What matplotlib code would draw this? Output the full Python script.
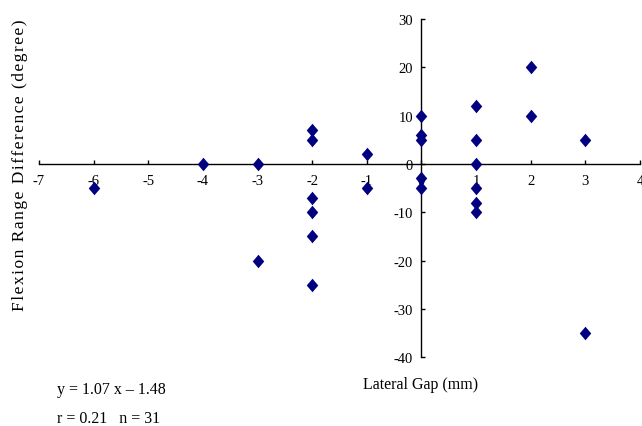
import matplotlib
matplotlib.use("Agg")
import matplotlib.pyplot as plt
import numpy as np

plt.rcParams['font.family'] = ['Liberation Serif', 'DejaVu Serif']

# Data
gap = [-6, -4, -3, -3, -2, -2, -2, -2, -2, -2, -1, -1,
       0, 0, 0, 0, 0, 1, 1, 1, 1, 1, 1, 2, 2, 3, 3]
flex = [-5, 0, 0, -20, 7, 5, -7, -10, -15, -25, 2, -5,
        10, 6, 5, -3, -5, 12, 5, 0, -5, -8, -10, 20, 10, 5, -35]

x_ticks = [-7, -6, -5, -4, -3, -2, -1, 0, 1, 2, 3, 4]
y_ticks = [-40, -30, -20, -10, 0, 10, 20, 30]

fig = plt.figure(figsize=(6.42, 4.27), dpi=100)
ax = fig.add_axes([39/642, 1 - 358.3/427, (640 - 39)/642, (358.3 - 20)/427])

diamond = [(0, 1), (0.85, 0), (0, -1), (-0.85, 0), (0, 1)]
ax.scatter(gap, flex, marker=diamond, s=95, color='#000080', zorder=3,
           linewidths=0, clip_on=False)

ax.set_xlim(-7, 4)
ax.set_ylim(-40, 30)
ax.spines['left'].set_position(('data', 0))
ax.spines['bottom'].set_position(('data', 0))
ax.spines['right'].set_visible(False)
ax.spines['top'].set_visible(False)
for s in ('left', 'bottom'):
    ax.spines[s].set_linewidth(1.0)
    ax.spines[s].set_color('black')

ax.set_xticks(x_ticks)
ax.set_yticks(y_ticks)
ax.set_xticklabels([str(t) for t in x_ticks])
ax.set_yticklabels([str(t) for t in y_ticks])
ax.tick_params(axis='x', direction='in', length=3, width=1, pad=7, labelsize=10.5)
ax.tick_params(axis='y', direction='in', length=3, width=1, pad=6, labelsize=10.5)
ax.set_facecolor('none')

ylabel = 'Flexion Range Difference (degree)'
spaced = '\u200a'.join(ylabel)
fig.text(20/642, 1 - 165/427, spaced,
         rotation=90, ha='center', va='center', fontsize=12.5)
fig.text(421/642, 1 - 385/427, 'Lateral Gap (mm)', ha='center', va='center', fontsize=11.5)
fig.text(57/642, 1 - 390/427, 'y = 1.07 x \u2013 1.48', ha='left', va='center', fontsize=11.5)
fig.text(57/642, 1 - 419/427, 'r = 0.21   n = 31', ha='left', va='center', fontsize=11.5)

fig.savefig('out.png', dpi=100)
